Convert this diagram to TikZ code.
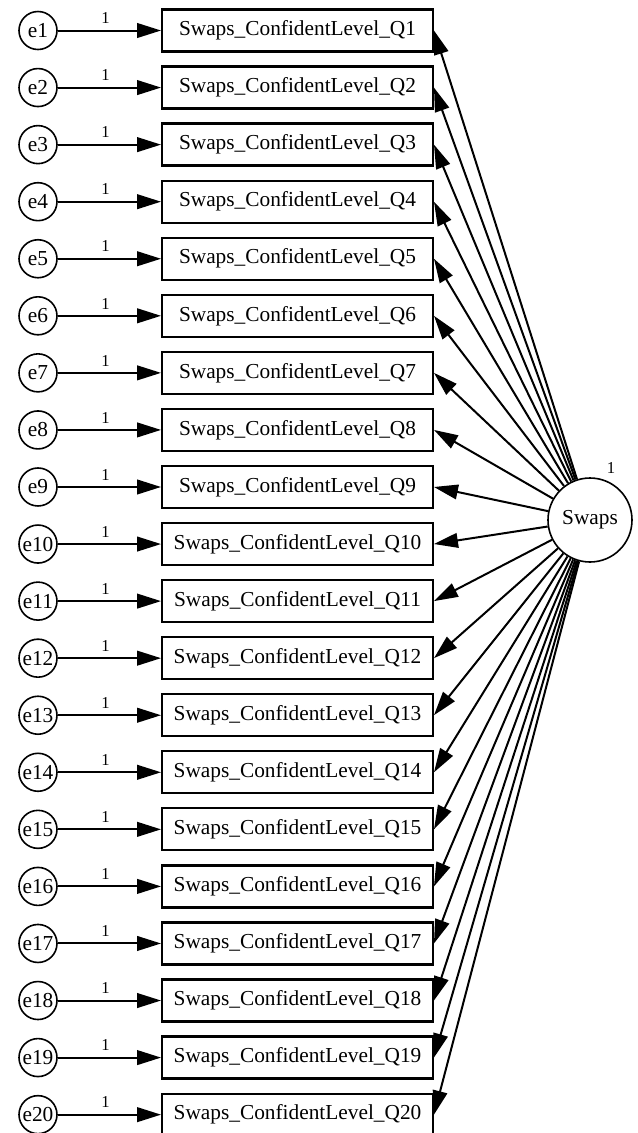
\documentclass[tikz,border=0pt]{standalone}
\usepackage{fontspec}
\setmainfont{Liberation Serif}
\usetikzlibrary{arrows.meta}
\tikzset{l/.style={font=\fontsize{12.5}{12.5}\selectfont}}
\tikzset{m/.style={font=\fontsize{16}{16}\selectfont}}
\tikzset{err/.style={m,draw,circle,line width=1.2pt,minimum size=28.5pt,inner sep=0pt}}
\tikzset{obs/.style={m,draw,rectangle,line width=1.7pt,minimum width=203pt,minimum height=31.5pt,inner sep=0pt}}
\tikzset{arr/.style={line width=1.5pt,-{Triangle[length=18pt,width=11pt]}}}

\begin{document}
\begin{tikzpicture}[x=0.75pt,y=-0.75pt]
  \useasboundingbox (0,0) rectangle (638,1133);
  \node[m,draw,circle,line width=1.2pt,minimum size=63pt,inner sep=0pt] (S) at (590,520) {Swaps};
  \node[l] at (611,468) {1};
  \foreach \i in {1,...,20} {
    \pgfmathsetmacro\y{30.5+57.06*(\i-1)}
    \node[err] (e\i) at (38,\y) {e\i};
    \node[obs] (q\i) at (297.5,\y) {Swaps\_ConfidentLevel\_Q\i};
    \draw[arr] (e\i) -- node[l,above,xshift=-3pt,yshift=1pt] {1} (q\i);
    \draw[arr] (S) -- (q\i.east);
  }
\end{tikzpicture}
\end{document}
